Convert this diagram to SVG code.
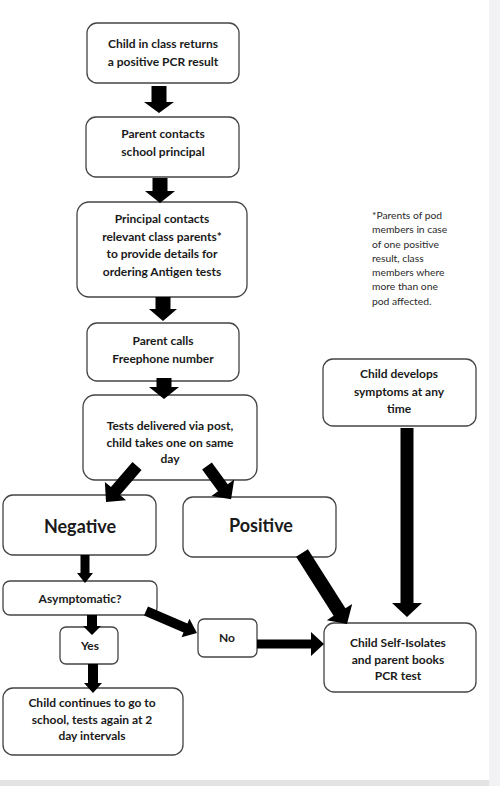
<svg xmlns="http://www.w3.org/2000/svg" width="500" height="786" viewBox="0 0 500 786">
<style>
.box{fill:#fff;stroke:#444;stroke-width:1.3}
.t{font-family:Lato,"Liberation Sans",sans-serif;font-weight:700;font-size:12px;fill:#1a1a1a;text-anchor:middle}
.big{font-size:18px}
.note{font-family:Lato,"Liberation Sans",sans-serif;font-size:10.3px;fill:#2a2a2a}
.arr{fill:#000}
</style>
<rect x="0" y="0" width="500" height="786" fill="#fff"/>
<rect x="489" y="0" width="11" height="786" fill="#f2f2f4"/>
<rect x="0" y="780" width="489" height="6" fill="#e3e3e3"/>

<g id="n1"><rect class="box" x="87" y="23" width="152" height="60" rx="10"/>
<text class="t" x="163" y="48">Child in class returns</text><text class="t" x="163" y="66">a positive PCR result</text></g>
<g id="n2"><rect class="box" x="86" y="117" width="153" height="60" rx="10"/>
<text class="t" x="163" y="138">Parent contacts</text><text class="t" x="163" y="156">school principal</text></g>
<g id="n3"><rect class="box" x="77" y="202" width="170" height="95" rx="12"/>
<text class="t" x="162" y="223">Principal contacts</text><text class="t" x="162" y="241">relevant class parents*</text><text class="t" x="162" y="258">to provide details for</text><text class="t" x="162" y="276">ordering Antigen tests</text></g>
<g id="n4"><rect class="box" x="87" y="323" width="152" height="58" rx="10"/>
<text class="t" x="163" y="345">Parent calls</text><text class="t" x="163" y="363">Freephone number</text></g>
<g id="n5"><rect class="box" x="83" y="395" width="174" height="85" rx="12"/>
<text class="t" x="170" y="430">Tests delivered via post,</text><text class="t" x="170" y="447">child takes one on same</text><text class="t" x="170" y="463">day</text></g>
<g id="n6"><rect class="box" x="3" y="495" width="153" height="60" rx="10"/>
<text class="t big" x="80" y="533">Negative</text></g>
<g id="n7"><rect class="box" x="183" y="497" width="153" height="60" rx="10"/>
<text class="t big" x="261" y="532">Positive</text></g>
<g id="n8"><rect class="box" x="323" y="359" width="153" height="67" rx="10"/>
<text class="t" x="399" y="378">Child develops</text><text class="t" x="399" y="396">symptoms at any</text><text class="t" x="399" y="413">time</text></g>
<g id="n9"><rect class="box" x="3" y="581" width="154" height="34" rx="7"/>
<text class="t" x="80" y="603">Asymptomatic?</text></g>
<g id="n10"><rect class="box" x="198" y="619" width="59" height="38" rx="6"/>
<text class="t" x="227" y="642">No</text></g>
<g id="n11"><rect class="box" x="60" y="627" width="58" height="37" rx="6"/>
<text class="t" x="90" y="650">Yes</text></g>
<g id="n12"><rect class="box" x="324" y="623" width="152" height="69" rx="10"/>
<text class="t" x="398" y="647">Child Self-Isolates</text><text class="t" x="398" y="664">and parent books</text><text class="t" x="398" y="680">PCR test</text></g>
<g id="n13"><rect class="box" x="3" y="688" width="180" height="67" rx="10"/>
<text class="t" x="92" y="707">Child continues to go to</text><text class="t" x="92" y="724">school, tests again at 2</text><text class="t" x="92" y="740">day intervals</text></g>
<g id="note">
<text class="note" x="372" y="219">*Parents of pod</text>
<text class="note" x="372" y="233">members in case</text>
<text class="note" x="372" y="248">of one positive</text>
<text class="note" x="372" y="262">result, class</text>
<text class="note" x="372" y="276">members where</text>
<text class="note" x="372" y="290">more than one</text>
<text class="note" x="372" y="305">pod affected.</text>
</g>

<g id="connectors" class="arr">
<polygon transform="translate(159,86) rotate(90)" points="0,-7.5 16,-7.5 16,-15 27,0 16,15 16,7.5 0,7.5"/>
<polygon transform="translate(160,178) rotate(90)" points="0,-7.5 13,-7.5 13,-15 25,0 13,15 13,7.5 0,7.5"/>
<polygon transform="translate(163,297) rotate(90)" points="0,-7.5 12,-7.5 12,-14 24,0 12,14 12,7.5 0,7.5"/>
<polygon transform="translate(164,378) rotate(90)" points="0,-7.5 9,-7.5 9,-15 21,0 9,15 9,7.5 0,7.5"/>
<polygon transform="translate(137,466) rotate(130.7)" points="0,-6 33,-6 33,-14 47.5,0 33,14 33,6 0,6"/>
<polygon transform="translate(207,466) rotate(54)" points="0,-6 27,-6 27,-14 41,0 27,14 27,6 0,6"/>
<polygon transform="translate(302,553) rotate(57.6)" points="0,-7 70,-7 70,-15 84,0 70,15 70,7 0,7"/>
<polygon transform="translate(407,428) rotate(90)" points="0,-6.5 175,-6.5 175,-15 189,0 175,15 175,6.5 0,6.5"/>
<polygon transform="translate(257,644) rotate(0)" points="0,-4.5 54,-4.5 54,-12 67,0 54,12 54,4.5 0,4.5"/>
<polygon transform="translate(85,555) rotate(90)" points="0,-4.5 18,-4.5 18,-8 28,0 18,8 18,4.5 0,4.5"/>
<polygon transform="translate(146,611) rotate(23.3)" points="0,-5 43,-5 43,-10 55.5,0 43,10 43,5 0,5"/>
<polygon transform="translate(92,615) rotate(90)" points="0,-5 11,-5 11,-9 20,0 11,9 11,5 0,5"/>
<polygon transform="translate(93,664) rotate(90)" points="0,-5 19,-5 19,-9 29,0 19,9 19,5 0,5"/>
</g>
</svg>
